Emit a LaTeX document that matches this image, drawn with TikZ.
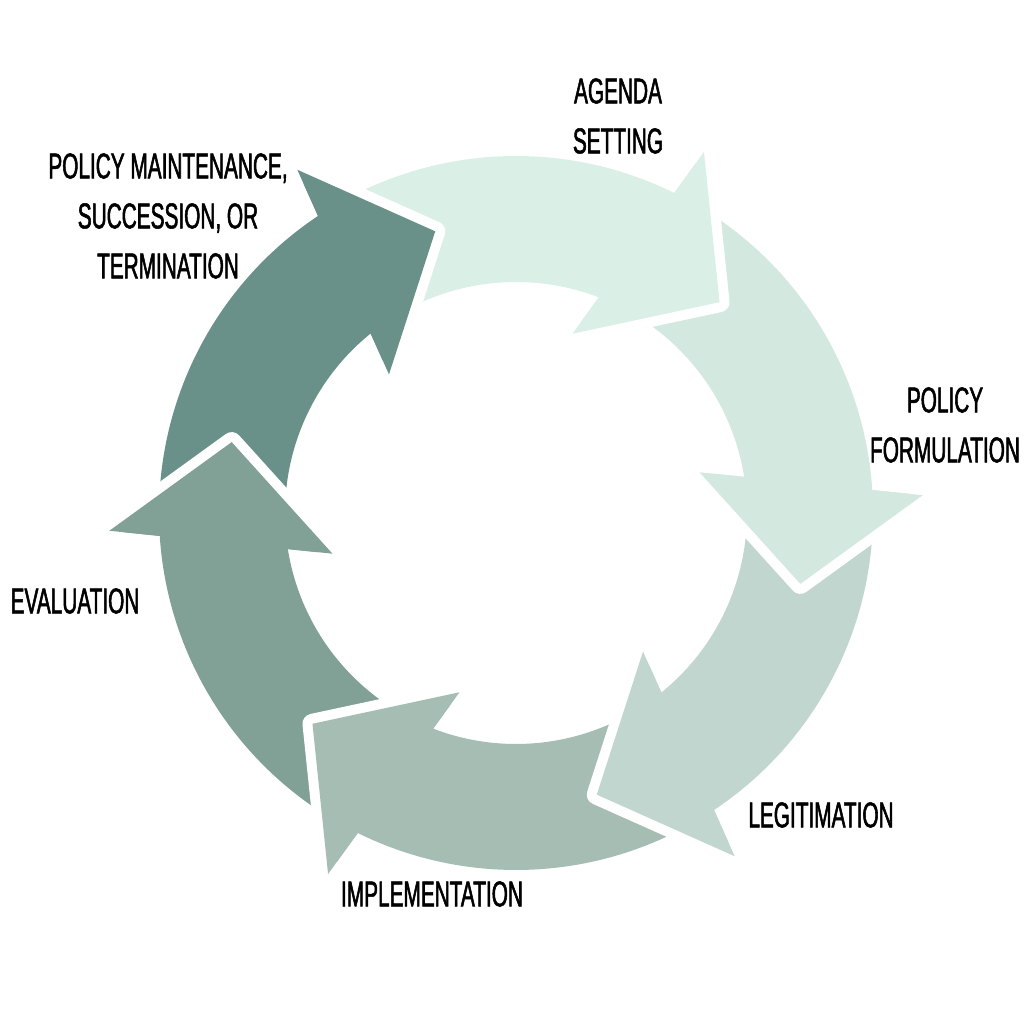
\documentclass[tikz,border=0pt]{standalone}
\usepackage{fontspec}
\newfontfamily\stagefont{Liberation Sans}[FakeStretch=0.58, FakeBold=1.5]
\usetikzlibrary{positioning}

\definecolor{agendacol}{HTML}{DAF0E6}
\definecolor{formulcol}{HTML}{D3E8DF}
\definecolor{legitcol}{HTML}{C1D6CE}
\definecolor{implcol}{HTML}{A5BDB3}
\definecolor{evalcol}{HTML}{81A096}
\definecolor{maintcol}{HTML}{6A9189}

\tikzset{
  stagelabel/.style={font=\stagefont\fontsize{10.2pt}{14.2pt}\selectfont,
                     align=center, inner sep=0pt, text=black},
  gapline/.style={white, line width=0.2cm, line join=round, line cap=round}
}

% one ring segment with its head at angle #1, tail fitting the previous head
\newcommand{\stagebody}[1]{(#1+70.96:357) arc[start angle=#1+70.96, end angle=#1+17.69, radius=357]
  -- (#1+16.5:407) -- (#1:293) -- (#1+26.5:188) -- (#1+23:231)
  arc[start angle=#1+23, end angle=#1+71.23, radius=231] -- (#1+60:293) -- cycle}
\newcommand{\stagehead}[1]{(#1+16.5:407) -- (#1:293) -- (#1+26.5:188)}

\begin{document}
\begin{tikzpicture}[x=0.01cm, y=0.01cm]
  \useasboundingbox[fill=white] (0,0) rectangle (1024,1024);

  \begin{scope}[shift={(516,511)}]
    % bodies
    \fill[agendacol] \stagebody{46};
    \fill[formulcol] \stagebody{-14};
    \fill[legitcol]  \stagebody{-74};
    \fill[implcol]   \stagebody{-134};
    \fill[evalcol]   \stagebody{-194};
    \fill[maintcol]  \stagebody{-254};
    % white gaps in front of each head
    \draw[gapline] \stagehead{46};
    \fill[agendacol] \stagehead{46} -- cycle;
    \draw[gapline] \stagehead{-14};
    \fill[formulcol] \stagehead{-14} -- cycle;
    \draw[gapline] \stagehead{-74};
    \fill[legitcol] \stagehead{-74} -- cycle;
    \draw[gapline] \stagehead{-134};
    \fill[implcol] \stagehead{-134} -- cycle;
    \draw[gapline] \stagehead{-194};
    \fill[evalcol] \stagehead{-194} -- cycle;
    \draw[gapline] \stagehead{-254};
    \fill[maintcol] \stagehead{-254} -- cycle;
  \end{scope}

  % labels
  \node[stagelabel] (agenda) at (618,908) {AGENDA\\SETTING};
  \node[stagelabel] (formulation) at (945,599) {POLICY\\FORMULATION};
  \node[stagelabel] (legitimation) at (821,209) {LEGITIMATION};
  \node[stagelabel] (implementation) at (432,130) {IMPLEMENTATION};
  \node[stagelabel] (evaluation) at (75,423) {EVALUATION};
  \node[stagelabel] (maintenance) at (168,808) {POLICY MAINTENANCE,\\SUCCESSION, OR\\TERMINATION};
\end{tikzpicture}
\end{document}
